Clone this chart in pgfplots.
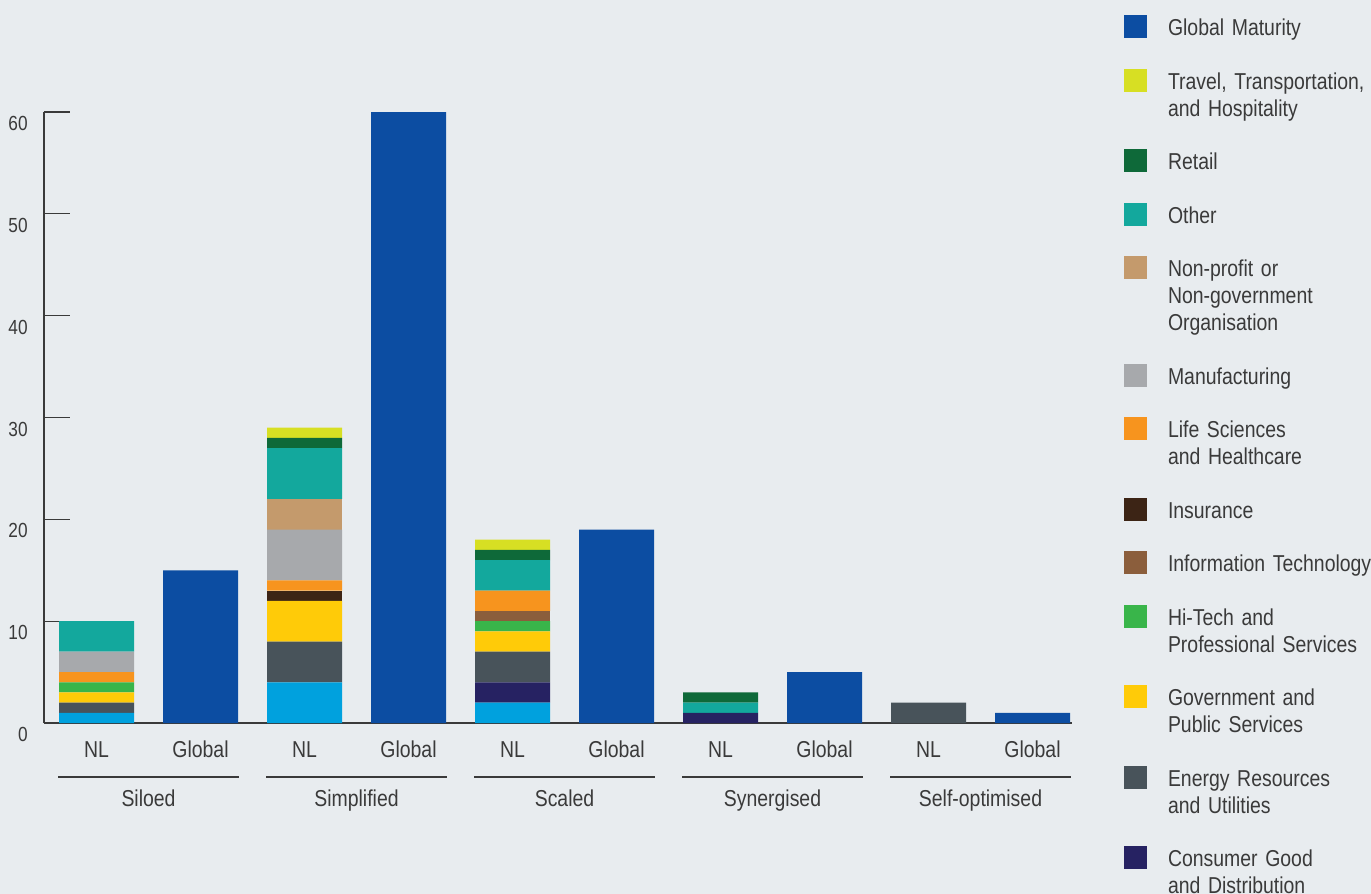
\documentclass[border=0pt]{standalone}
\usepackage{fontspec}
\setmainfont{Liberation Sans}[FakeStretch=0.845]
\usepackage{pgfplots}
\pgfplotsset{compat=1.18}
\definecolor{bg}{HTML}{E8ECEF}
\definecolor{txt}{HTML}{3A3A3A}
\definecolor{cGlobal}{HTML}{0C4DA2}
\definecolor{cTravel}{HTML}{D7DF23}
\definecolor{cRetail}{HTML}{0E6939}
\definecolor{cOther}{HTML}{13A89D}
\definecolor{cNonprofit}{HTML}{C49A6C}
\definecolor{cManu}{HTML}{A7A9AC}
\definecolor{cLife}{HTML}{F7941E}
\definecolor{cIns}{HTML}{3C2415}
\definecolor{cIT}{HTML}{8B5E3C}
\definecolor{cHitech}{HTML}{39B54A}
\definecolor{cGov}{HTML}{FFCB08}
\definecolor{cEnergy}{HTML}{48535A}
\definecolor{cConsumer}{HTML}{262262}
\definecolor{cBank}{HTML}{00A1DE}
\newcommand\legfont{\fontsize{11.5}{13.5}\selectfont}
\newcommand\tickfont{\fontsize{11.5}{13.5}\selectfont}
\newcommand\yfont{\fontsize{10.2}{12}\selectfont}
\begin{document}
\begin{tikzpicture}
\fill[bg] (-22pt,-85.5pt) rectangle (663.5pt,361.5pt);
\begin{axis}[
  at={(0,0)}, anchor=south west,
  scale only axis, width=514pt, height=305.5pt,
  ybar stacked, bar width=0.721,
  xmin=-0.505, xmax=9.38, ymin=0, ymax=60,
  clip=false,
  axis lines*=left,
  axis line style={draw=txt, line width=0.6pt},
  xtick={0,...,9},
  xticklabels={NL,Global,NL,Global,NL,Global,NL,Global,NL,Global},
  x tick style={draw=none},
  ytick={0,10,...,60},
  y tick style={draw=txt, line width=0.6pt},
  tick align=inside, major tick length=13pt,
  /pgf/number format/assume math mode=true,
  yticklabel style={anchor=base east, inner sep=0pt, xshift=-8pt, yshift=-9.3pt, font=\yfont, text=txt},
  xticklabel style={anchor=base, inner sep=0pt, yshift=-17pt, font=\tickfont, text=txt},
  every axis plot/.append style={draw=none},
  legend image code/.code={\fill[#1] (0pt,-1.25pt) rectangle (11.5pt,10.25pt);},
  reverse legend,
  legend cell align=left,
  legend style={at={([xshift=540pt,yshift=353.8pt]axis description cs:0,0)}, anchor=north west,
    draw=none, fill=none, inner sep=0pt, outer sep=0pt, row sep=12.45pt, column sep=10.5pt,
    cells={anchor=base west},
    nodes={inner sep=0pt, text height=, text depth=, text width=170pt, align=left, font=\legfont, text=txt}},
]
\addplot[fill=cBank] coordinates {(0,1) (1,0) (2,4) (3,0) (4,2) (5,0) (6,0) (7,0) (8,0) (9,0)};
\addlegendentry{}
\addplot[fill=cConsumer] coordinates {(0,0) (1,0) (2,0) (3,0) (4,2) (5,0) (6,1) (7,0) (8,0) (9,0)};
\addlegendentry{\strut Consumer Good\\and Distribution\strut}
\addplot[fill=cEnergy] coordinates {(0,1) (1,0) (2,4) (3,0) (4,3) (5,0) (6,0) (7,0) (8,2) (9,0)};
\addlegendentry{\strut Energy Resources\\and Utilities\strut}
\addplot[fill=cGov] coordinates {(0,1) (1,0) (2,4) (3,0) (4,2) (5,0) (6,0) (7,0) (8,0) (9,0)};
\addlegendentry{\strut Government and\\Public Services\strut}
\addplot[fill=cHitech] coordinates {(0,1) (1,0) (2,0) (3,0) (4,1) (5,0) (6,0) (7,0) (8,0) (9,0)};
\addlegendentry{\strut Hi-Tech and\\Professional Services\strut}
\addplot[fill=cIT] coordinates {(0,0) (1,0) (2,0) (3,0) (4,1) (5,0) (6,0) (7,0) (8,0) (9,0)};
\addlegendentry{\strut Information Technology\strut}
\addplot[fill=cIns] coordinates {(0,0) (1,0) (2,1) (3,0) (4,0) (5,0) (6,0) (7,0) (8,0) (9,0)};
\addlegendentry{\strut Insurance\strut}
\addplot[fill=cLife] coordinates {(0,1) (1,0) (2,1) (3,0) (4,2) (5,0) (6,0) (7,0) (8,0) (9,0)};
\addlegendentry{\strut Life Sciences\\and Healthcare\strut}
\addplot[fill=cManu] coordinates {(0,2) (1,0) (2,5) (3,0) (4,0) (5,0) (6,0) (7,0) (8,0) (9,0)};
\addlegendentry{\strut Manufacturing\strut}
\addplot[fill=cNonprofit] coordinates {(0,0) (1,0) (2,3) (3,0) (4,0) (5,0) (6,0) (7,0) (8,0) (9,0)};
\addlegendentry{\strut Non-profit or\\Non-government\\Organisation\strut}
\addplot[fill=cOther] coordinates {(0,3) (1,0) (2,5) (3,0) (4,3) (5,0) (6,1) (7,0) (8,0) (9,0)};
\addlegendentry{\strut Other\strut}
\addplot[fill=cRetail] coordinates {(0,0) (1,0) (2,1) (3,0) (4,1) (5,0) (6,1) (7,0) (8,0) (9,0)};
\addlegendentry{\strut Retail\strut}
\addplot[fill=cTravel] coordinates {(0,0) (1,0) (2,1) (3,0) (4,1) (5,0) (6,0) (7,0) (8,0) (9,0)};
\addlegendentry{\strut Travel, Transportation,\\and Hospitality\strut}
\addplot[fill=cGlobal] coordinates {(0,0) (1,15) (2,0) (3,60) (4,0) (5,19) (6,0) (7,5) (8,0) (9,1)};
\addlegendentry{\strut Global Maturity\strut}
% group labels
\draw[txt, line width=0.6pt] ([yshift=-27pt]axis cs:-0.37,0) -- ([yshift=-27pt]axis cs:1.37,0);
\draw[txt, line width=0.6pt] ([yshift=-27pt]axis cs:1.63,0) -- ([yshift=-27pt]axis cs:3.37,0);
\draw[txt, line width=0.6pt] ([yshift=-27pt]axis cs:3.63,0) -- ([yshift=-27pt]axis cs:5.37,0);
\draw[txt, line width=0.6pt] ([yshift=-27pt]axis cs:5.63,0) -- ([yshift=-27pt]axis cs:7.37,0);
\draw[txt, line width=0.6pt] ([yshift=-27pt]axis cs:7.63,0) -- ([yshift=-27pt]axis cs:9.37,0);
\node[anchor=base, inner sep=0pt, font=\tickfont, text=txt] at ([yshift=-41.5pt]axis cs:0.5,0) {Siloed};
\node[anchor=base, inner sep=0pt, font=\tickfont, text=txt] at ([yshift=-41.5pt]axis cs:2.5,0) {Simplified};
\node[anchor=base, inner sep=0pt, font=\tickfont, text=txt] at ([yshift=-41.5pt]axis cs:4.5,0) {Scaled};
\node[anchor=base, inner sep=0pt, font=\tickfont, text=txt] at ([yshift=-41.5pt]axis cs:6.5,0) {Synergised};
\node[anchor=base, inner sep=0pt, font=\tickfont, text=txt] at ([yshift=-41.5pt]axis cs:8.5,0) {Self-optimised};
\end{axis}
\pgfresetboundingbox
\path[use as bounding box] (-22pt,-85.5pt) rectangle (663.5pt,361.5pt);
\end{tikzpicture}
\end{document}
